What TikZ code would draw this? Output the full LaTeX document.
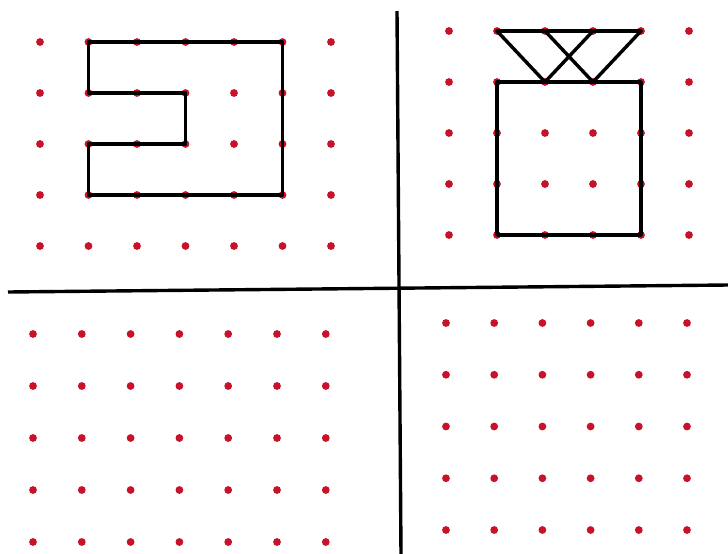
\documentclass[tikz,border=0pt]{standalone}
\usepackage{tikz}
\usetikzlibrary{calc}
\definecolor{puntorojo}{RGB}{200,18,44}

\tikzset{
  punto/.style={fill=puntorojo},
  trazo/.style={line width=3.4pt,line join=round,line cap=round},
  divisor/.style={line width=3.4pt}
}

\begin{document}
\begin{tikzpicture}[x=1pt,y=-1pt]
\useasboundingbox (0,0) rectangle (728,554);
% lineas divisorias
\coordinate (vsup) at (397,11);
\coordinate (vinf) at (401,554);
\coordinate (hizq) at (8,292);
\coordinate (hder) at (728,285);
\draw[divisor] (vsup) -- (vinf);
\draw[divisor] (hizq) -- (hder);
% cuadricula de puntos en cada cuadrante
\foreach \i in {0,...,6} \foreach \j in {0,...,4} {
  \coordinate (a\i\j) at ({40+48.5*\i},{42+51*\j});
  \fill[punto] (a\i\j) circle (3.9pt);
}
\foreach \i in {0,...,5} \foreach \j in {0,...,4} {
  \coordinate (b\i\j) at ({449+48*\i},{31+51*\j});
  \fill[punto] (b\i\j) circle (3.9pt);
}
\foreach \i in {0,...,6} \foreach \j in {0,...,4} {
  \coordinate (c\i\j) at ({33+48.8*\i},{334+52*\j});
  \fill[punto] (c\i\j) circle (3.9pt);
}
\foreach \i in {0,...,5} \foreach \j in {0,...,4} {
  \coordinate (d\i\j) at ({446+48.2*\i},{323+51.75*\j});
  \fill[punto] (d\i\j) circle (3.9pt);
}
% figura superior izquierda
\draw[trazo] (a10) -- (a50) -- (a53) -- (a13) -- (a12) -- (a32) -- (a31) -- (a11) -- cycle;
% figura superior derecha
\draw[trazo] (b11) -- (b41) -- (b44) -- (b14) -- cycle;
\draw[trazo] (b10) -- (b40);
\draw[trazo] (b10) -- (b21) -- (b30);
\draw[trazo] (b20) -- (b31) -- (b40);
\end{tikzpicture}
\end{document}
